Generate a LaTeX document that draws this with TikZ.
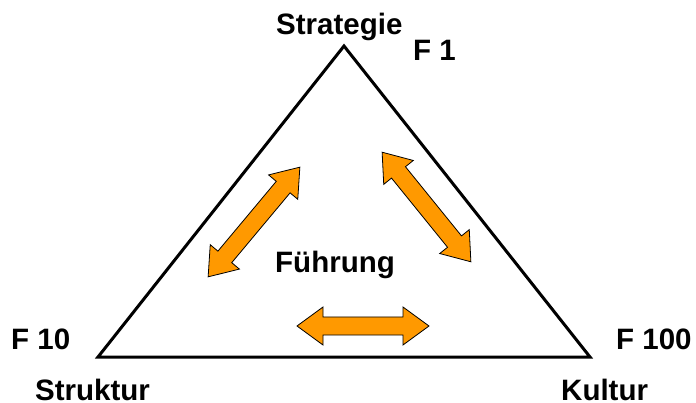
\documentclass[tikz,border=0pt]{standalone}
\usepackage{fontspec}
\setmainfont{Liberation Sans}
\begin{document}
\begin{tikzpicture}[x=1pt,y=-1pt,
  lbl/.style={font=\fontsize{29.5}{32}\selectfont\bfseries, inner sep=0pt, text depth=0pt, anchor=base west},
  tri/.style={draw=black, line width=3pt, line join=miter},
  dbl/.style={draw=black, line width=0.8pt, fill=orange1, line join=miter}]
\definecolor{orange1}{RGB}{255,153,0}
\useasboundingbox (0,0) rectangle (696,403);
\coordinate (top) at (344,46);
\coordinate (bl) at (98,357);
\coordinate (br) at (590,357);
\draw[tri] (top) -- (bl) -- (br) -- cycle;
% double arrows: \dblarr{cx}{cy}{angle}{length}
\newcommand{\dblarr}[4]{%
  \begin{scope}[shift={(#1,#2)}, rotate=#3, x=1pt, y=1pt]
    \pgfmathsetmacro{\hl}{#4/2}
    \pgfmathsetmacro{\hb}{#4/2-26}
    \draw[dbl] (-\hl,0) -- (-\hb,19) -- (-\hb,9) -- (\hb,9) -- (\hb,19) -- (\hl,0)
      -- (\hb,-19) -- (\hb,-9) -- (-\hb,-9) -- (-\hb,-19) -- cycle;
  \end{scope}}
\dblarr{254}{222}{50.1}{143}
\dblarr{426.5}{207}{-51}{141}
\dblarr{363}{326}{0}{132}
\node[lbl] (strat) at (276,35) {Strategie};
\node[lbl] (f1) at (413,61) {F 1};
\node[lbl] (f10) at (11,349) {F 10};
\node[lbl] (f100) at (616,349) {F 100};
\node[lbl] (struk) at (35,400) {Struktur};
\node[lbl] (kult) at (561,400) {Kultur};
\node[lbl] (fuehr) at (275,273) {Führung};
\end{tikzpicture}
\end{document}
